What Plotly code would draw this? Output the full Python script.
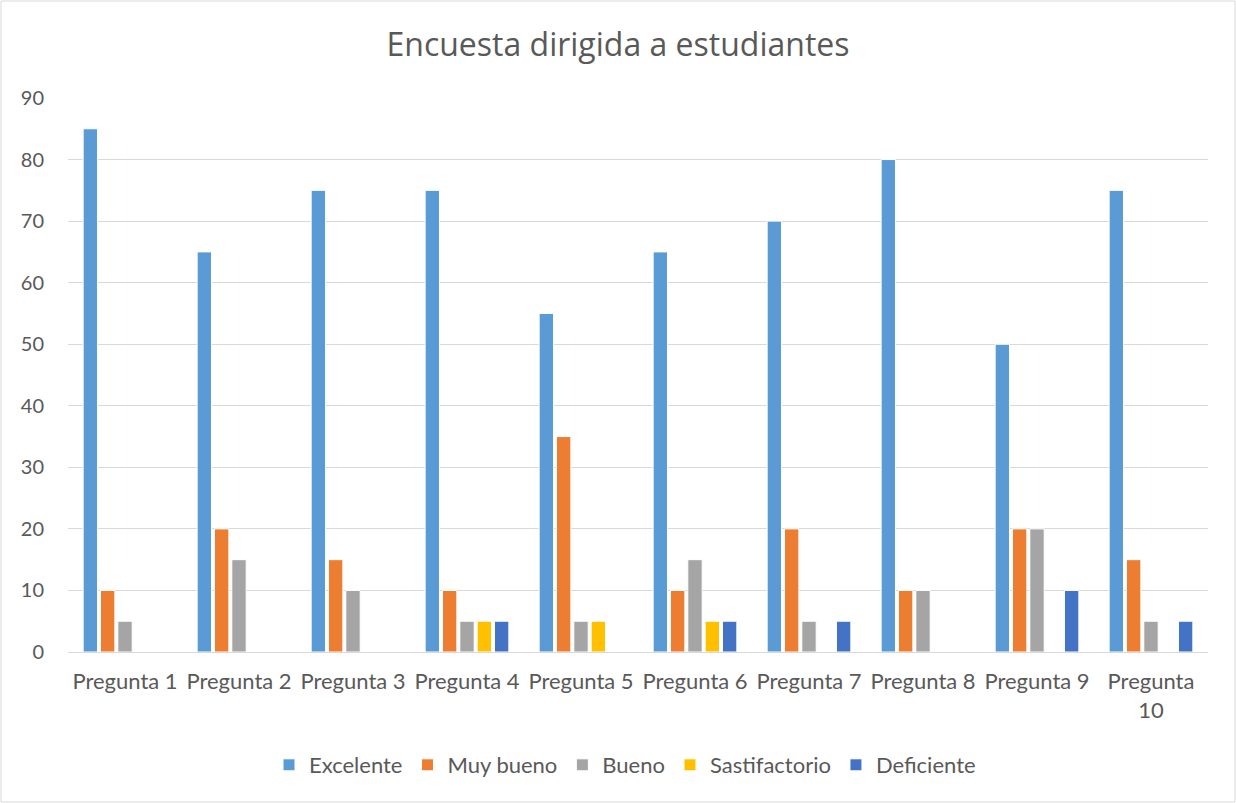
import plotly.graph_objects as go

categories = ["Pregunta 1", "Pregunta 2", "Pregunta 3", "Pregunta 4", "Pregunta 5",
              "Pregunta 6", "Pregunta 7", "Pregunta 8", "Pregunta 9", "Pregunta<br>10"]
excelente = [85, 65, 75, 75, 55, 65, 70, 80, 50, 75]
muy_bueno = [10, 20, 15, 10, 35, 10, 20, 10, 20, 15]
bueno = [5, 15, 10, 5, 5, 15, 5, 10, 20, 5]
sastifactorio = [0, 0, 0, 5, 5, 5, 0, 0, 0, 0]
deficiente = [0, 0, 0, 5, 0, 5, 5, 0, 10, 5]

series = [
    ("Excelente", excelente, "#5B9BD5"),
    ("Muy bueno", muy_bueno, "#ED7D31"),
    ("Bueno", bueno, "#A5A5A5"),
    ("Sastifactorio", sastifactorio, "#FFC000"),
    ("Deficiente", deficiente, "#4472C4"),
]

FONT = "Lato, 'Open Sans', sans-serif"
TITLE_FONT = "'Open Sans', Lato, sans-serif"
TXT = "#595959"

fig = go.Figure()
for name, vals, color in series:
    fig.add_trace(go.Bar(
        x=categories, y=vals, name=name,
        marker=dict(color=color, line=dict(color="white", width=1)),
    ))

W, H = 1236, 803
L, R, T, B = 68, 28, 98, 151
pw, ph = W - L - R, H - T - B

fig.update_layout(
    width=W, height=H,
    margin=dict(l=L, r=R, t=T, b=B),
    paper_bgcolor="white", plot_bgcolor="white",
    barmode="group", bargap=0.24, bargroupgap=0.17,
    font=dict(family=FONT, color=TXT, size=21),
    title=dict(text="Encuesta dirigida a estudiantes", x=0.5, xanchor="center",
               y=1 - 45 / H, yanchor="middle",
               font=dict(family=TITLE_FONT, size=32, color=TXT)),
    xaxis=dict(showgrid=False, showline=True, linecolor="#D9D9D9", linewidth=1,
               ticks="", ticklabelstandoff=10, tickfont=dict(size=22, color=TXT)),
    yaxis=dict(range=[0, 90], dtick=10, showgrid=True, gridcolor="#D9D9D9", gridwidth=1,
               zeroline=True, zerolinecolor="#D9D9D9", zerolinewidth=1,
               showline=False, ticks="", ticklabelstandoff=23,
               tickfont=dict(size=20, color=TXT)),
    legend=dict(orientation="h", x=(625 - L) / pw, xanchor="center", y=(652 - 765) / ph,
                yanchor="middle", font=dict(size=22, color=TXT),
                traceorder="normal", itemwidth=30),
    shapes=[dict(type="rect", xref="paper", yref="paper",
                 x0=(1 - L) / pw, x1=(W - 1 - L) / pw,
                 y0=-(H - 1 - T - ph) / ph,
                 y1=(T + ph - 1) / ph,
                 line=dict(color="#D9D9D9", width=1), fillcolor="rgba(0,0,0,0)", layer="below")],
)

fig.write_html("out.html")
